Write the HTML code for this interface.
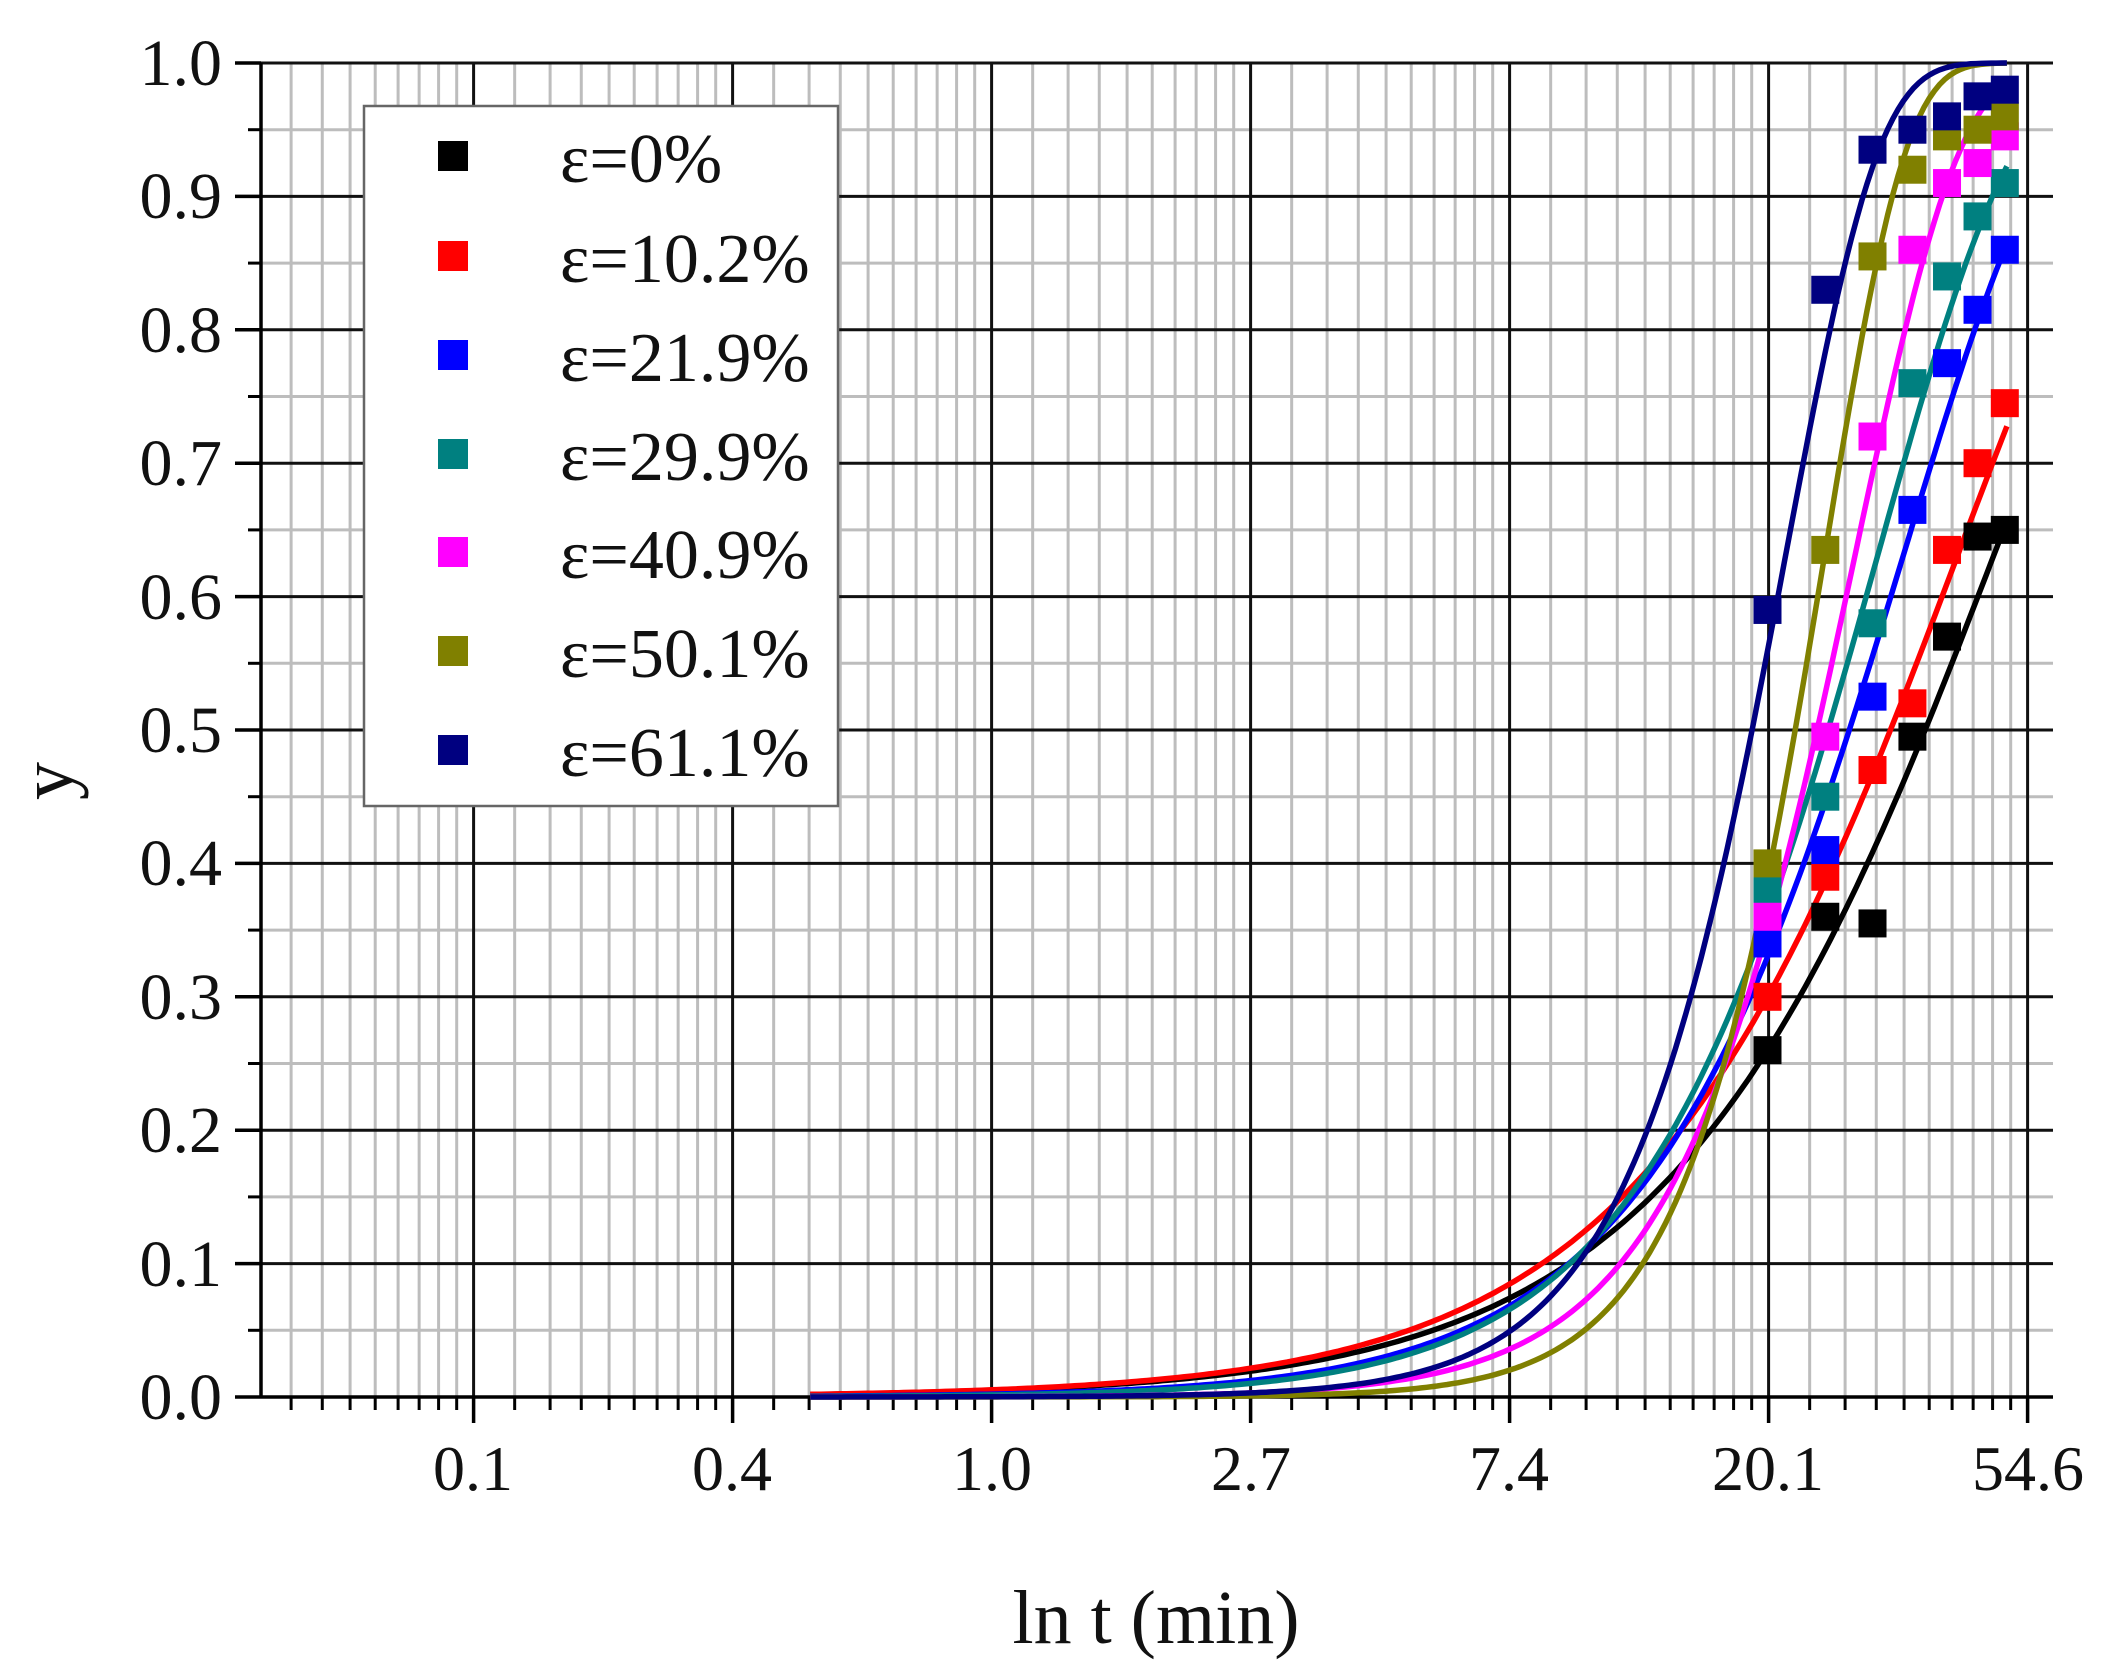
<!DOCTYPE html>
<html><head><meta charset="utf-8"><style>
html,body{margin:0;padding:0;background:#fff;}
svg{display:block;}
text{font-family:"Liberation Serif",serif;fill:#111;}
</style></head><body>
<svg id="s" width="2112" height="1675" viewBox="0 0 2112 1675" xmlns="http://www.w3.org/2000/svg">
<g id="grid"></g>
<g id="curves" fill="none" stroke-width="5.5"></g>
<g id="pts"></g>
<g font-size="66" text-anchor="end">
<text x="222" y="85">1.0</text>
<text x="222" y="218">0.9</text>
<text x="222" y="352">0.8</text>
<text x="222" y="485">0.7</text>
<text x="222" y="619">0.6</text>
<text x="222" y="752">0.5</text>
<text x="222" y="885">0.4</text>
<text x="222" y="1019">0.3</text>
<text x="222" y="1152">0.2</text>
<text x="222" y="1286">0.1</text>
<text x="222" y="1419">0.0</text>
</g>
<g font-size="64" text-anchor="middle">
<text x="473" y="1490">0.1</text>
<text x="732" y="1490">0.4</text>
<text x="992" y="1490">1.0</text>
<text x="1251" y="1490">2.7</text>
<text x="1509" y="1490">7.4</text>
<text x="1768" y="1490">20.1</text>
<text x="2028" y="1490">54.6</text>
</g>
<text x="1156" y="1643" font-size="76" text-anchor="middle">ln t (min)</text>
<text x="0" y="0" font-size="76" text-anchor="middle" transform="translate(72,781) rotate(-90)">y</text>
<rect x="364" y="106" width="474" height="700" fill="#fff" stroke="#666" stroke-width="2.5"/>
<g>
<rect x="438" y="141" width="30" height="30" fill="#000"/>
<rect x="438" y="241" width="30" height="30" fill="#ff0000"/>
<rect x="438" y="340" width="30" height="30" fill="#0000ff"/>
<rect x="438" y="439" width="30" height="30" fill="#008080"/>
<rect x="438" y="537" width="30" height="30" fill="#ff00ff"/>
<rect x="438" y="636" width="30" height="30" fill="#808000"/>
<rect x="438" y="735" width="30" height="30" fill="#000080"/>
</g>
<g font-size="70">
<text x="560" y="182">ε=0%</text>
<text x="560" y="282">ε=10.2%</text>
<text x="560" y="381">ε=21.9%</text>
<text x="560" y="480">ε=29.9%</text>
<text x="560" y="578">ε=40.9%</text>
<text x="560" y="677">ε=50.1%</text>
<text x="560" y="776">ε=61.1%</text>
</g>
</svg>
<script>
var NS="http://www.w3.org/2000/svg";
function X(l){return 991.6+259*l;}
function Y(v){return 1397-1334*v;}
var L=261,R=2053,T=63,B=1397;
var g=document.getElementById('grid');
function line(p,x1,y1,x2,y2,c,w){var e=document.createElementNS(NS,'line');e.setAttribute('x1',x1);e.setAttribute('y1',y1);e.setAttribute('x2',x2);e.setAttribute('y2',y2);e.setAttribute('stroke',c);e.setAttribute('stroke-width',w);p.appendChild(e);}
for(var n=-4;n<=4;n++){for(var k=1;k<=9;k++){var l=n+Math.log(1+k*(Math.E-1)/10);var x=X(l);if(x>L+2&&x<R){line(g,x,T,x,B,'#bdbdbd',3);line(g,x,B,x,B+13,'#000',3);}}}
for(var i=0;i<10;i++){var y=Y(i*0.1+0.05);line(g,L,y,R,y,'#bdbdbd',3);line(g,L-13,y,L,y,'#000',3);}
for(var n=-2;n<=4;n++){var x=X(n);line(g,x,T,x,B,'#111',3);line(g,x,B,x,B+26,'#000',3.5);}
for(var i=0;i<=10;i++){var y=Y(i*0.1);line(g,L,y,R,y,'#111',3);line(g,L-26,y,L,y,'#000',3.5);}
line(g,L,T,L,B,'#000',3.5);line(g,L,B,R,B,'#000',3.5);
var S=[
['#000',1.37,0.00497,[0.26,0.36,0.355,0.495,0.57,0.645,0.65]],
['#ff0000',1.4,0.00538,[0.3,0.39,0.47,0.52,0.635,0.70,0.745]],
['#0000ff',1.74,0.00218,[0.34,0.41,0.525,0.665,0.775,0.815,0.86]],
['#008080',1.89,0.00155,[0.38,0.45,0.58,0.76,0.84,0.885,0.91]],
['#ff00ff',2.48,0.000256,[0.36,0.495,0.72,0.86,0.91,0.925,0.945]],
['#808000',3.2,0.0000338,[0.40,0.635,0.855,0.92,0.945,0.95,0.96]],
['#000080',2.8,0.0001864,[0.59,0.83,0.935,0.95,0.96,0.975,0.98]]];
var cg=document.getElementById('curves'),pg=document.getElementById('pts');
var ts=[20,25,30,35,40,45,50];
S.forEach(function(s){var d='';for(var l=-0.7;l<=3.93;l+=0.02){var t=Math.exp(l);var v=1-Math.exp(-s[2]*Math.pow(t,s[1]));d+=(d?'L':'M')+X(l).toFixed(1)+' '+Y(v).toFixed(1);}
var p=document.createElementNS(NS,'path');p.setAttribute('d',d);p.setAttribute('stroke',s[0]);cg.appendChild(p);
s[3].forEach(function(v,i){var r=document.createElementNS(NS,'rect');var x=X(Math.log(ts[i])),y=Y(v);r.setAttribute('x',x-14);r.setAttribute('y',y-14);r.setAttribute('width',28);r.setAttribute('height',28);r.setAttribute('fill',s[0]);pg.appendChild(r);});});
</script>
</body></html>
